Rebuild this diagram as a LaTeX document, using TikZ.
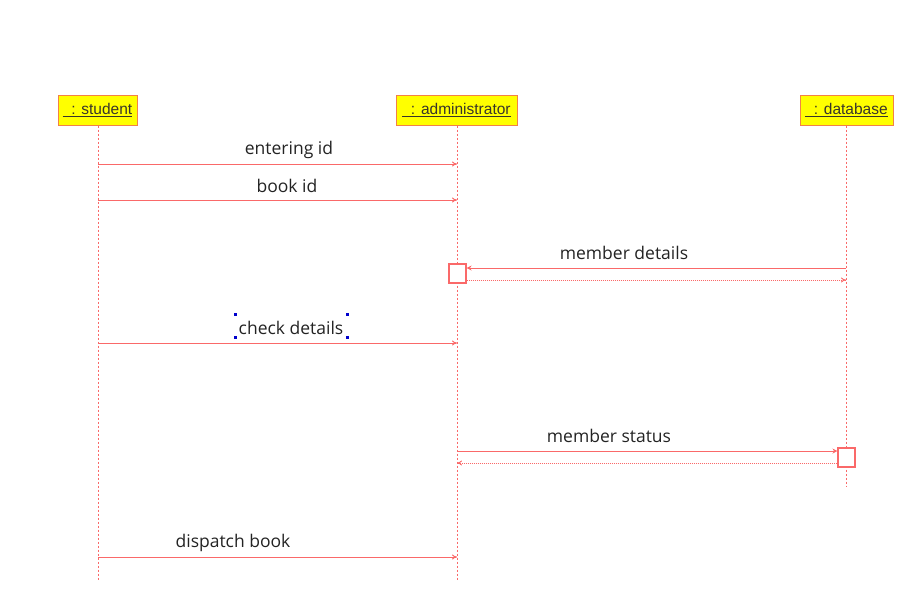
\documentclass[tikz,border=0pt]{standalone}
\usepackage{fontspec}
\setmainfont{Open Sans}
\newfontfamily\boxfont{Liberation Sans}
\usetikzlibrary{arrows.meta}
\definecolor{lred}{RGB}{250,105,105}
\definecolor{ybox}{RGB}{255,255,0}
\definecolor{obord}{RGB}{242,130,70}
\definecolor{txt}{RGB}{35,35,35}
\tikzset{
  actor/.style={draw=obord, fill=ybox, line width=1pt, minimum height=30pt, inner sep=0pt, font=\boxfont\fontsize{15.5}{17}\selectfont, text=black!80!olive},
  lifeline/.style={draw=lred, dash pattern=on 2pt off 2pt, line width=1pt},
  msg/.style={draw=lred, line width=1pt, -{To[length=5pt,width=5pt]}},
  msgf/.style={draw=lred, line width=1pt, -{Stealth[length=5pt,width=5pt]}},
  ret/.style={draw=lred, line width=0.9pt, dash pattern=on 1pt off 1pt, -{To[length=5pt,width=5pt]}},
  lbl/.style={font=\fontsize{17.5}{20}\selectfont, text=txt, inner sep=0pt},
  act/.style={draw=lred, fill=white, line width=1.1pt, minimum width=17pt, minimum height=19pt, inner sep=0pt},
  handle/.style={fill=blue!80!black, minimum size=3pt, inner sep=0pt}
}
\begin{document}
\begin{tikzpicture}[x=1pt,y=-1pt]
\useasboundingbox (0,0) rectangle (910,590);
% actors
\node[actor, minimum width=79pt] (st) at (97.5,110) {\underline{\ \ : student}};
\node[actor, minimum width=121pt] (ad) at (456.5,110) {\underline{\ \ : administrator}};
\node[actor, minimum width=93pt] (db) at (846.5,110) {\underline{\ \ : database}};
% lifeline ends
\coordinate (stE) at (98,581);
\coordinate (adE) at (457,581);
\coordinate (dbE) at (846,486);
\draw[lifeline] (st.south -| stE) -- (stE);
\draw[lifeline] (ad.south -| adE) -- (adE);
\draw[lifeline] (db.south -| dbE) -- (dbE);
% activation boxes
\node[act] (a1) at (457.5,273.5) {};
\node[act] (a2) at (846.5,457.5) {};
% message points
\coordinate (s1) at (98,164); \coordinate (t1) at (457,164);
\coordinate (s2) at (98,200); \coordinate (t2) at (457,200);
\coordinate (s3) at (846,268);
\coordinate (s4) at (846,280);
\coordinate (s5) at (98,343); \coordinate (t5) at (457,343);
\coordinate (s6) at (457,451);
\coordinate (s7) at (457,463);
\coordinate (s8) at (98,557); \coordinate (t8) at (457,557);
\draw[msg] (s1) -- (t1);
\draw[msg] (s2) -- (t2);
\draw[msgf] (s3) -- (s3 -| a1.east);
\draw[ret] (s4 -| a1.east) -- (s4);
\draw[msg] (s5) -- (t5);
\draw[msgf] (s6) -- (s6 -| a2.west);
\draw[ret] (s7 -| a2.west) -- (s7);
\draw[msg] (s8) -- (t8);
% labels
\node[lbl] (l1) at (289,150) {entering id};
\node[lbl] (l2) at (287,186) {book id};
\node[lbl] (l3) at (624,253) {member details};
\node[lbl] (l5) at (291,328) {check details};
\node[lbl] (l6) at (609,436) {member status};
\node[lbl] (l8) at (233,543) {dispatch book};
% selection handles
\node[handle] (h1) at (235.5,314.5) {};
\node[handle] (h2) at (347.5,314.5) {};
\node[handle] (h3) at (235.5,337.5) {};
\node[handle] (h4) at (347.5,337.5) {};
\end{tikzpicture}
\end{document}
